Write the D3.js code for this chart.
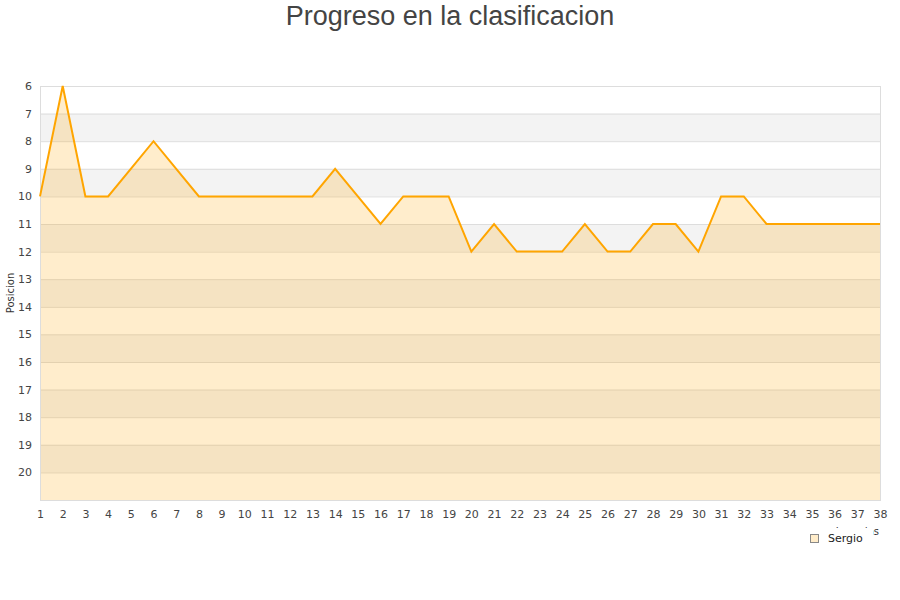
<!DOCTYPE html>
<html><head><meta charset="utf-8">
<script src="https://cdn.jsdelivr.net/npm/d3@7"></script>
<style>body{margin:0;background:#fff}svg{display:block}</style>
</head><body>
<svg id="c" width="900" height="600"></svg>
<script>
const jornadas = d3.range(1, 39);
const posiciones = [10,6,10,10,9,8,9,10,10,10,10,10,10,9,10,11,10,10,10,12,11,12,12,12,11,12,12,11,11,12,10,10,11,11,11,11,11,11];
const yTicks = d3.range(6, 21);
const serieNombre = "Sergio";
const titulo = "Progreso en la clasificacion";

const svg = d3.select("#c");
const m = {l:40, r:880, t:86, b:500};
const x = d3.scaleLinear().domain([1, 38]).range([m.l, m.r]);
const y = d3.scaleLinear().domain([6, 21]).range([m.t, m.b]);

// bands
const bands = d3.range(6, 21);
svg.append("g").selectAll("rect").data(bands).join("rect")
  .attr("x", m.l).attr("width", m.r - m.l)
  .attr("y", d => y(d)).attr("height", d => y(d+1) - y(d))
  .attr("fill", d => (d % 2 === 1) ? "#f3f3f3" : "#ffffff");
// grid lines
svg.append("g").selectAll("line").data(d3.range(6, 21)).join("line")
  .attr("x1", m.l).attr("x2", m.r)
  .attr("y1", d => y(d)+0.5).attr("y2", d => y(d)+0.5)
  .attr("stroke", "#dddddd").attr("stroke-width", 1);

// area
const area = d3.area().x((d,i) => x(jornadas[i])).y0(m.b).y1(d => y(d));
svg.append("path").datum(posiciones).attr("d", area)
  .attr("fill", "rgba(255,165,0,0.2)");

// border
svg.append("rect").attr("x", m.l+0.5).attr("y", m.t+0.5)
  .attr("width", m.r - m.l).attr("height", m.b - m.t)
  .attr("fill", "none").attr("stroke", "#dddddd");

// line
const line = d3.line().x((d,i) => x(jornadas[i])).y(d => y(d));
svg.append("path").datum(posiciones).attr("d", line)
  .attr("fill", "none").attr("stroke", "#ffa500").attr("stroke-width", 2)
  .attr("stroke-linejoin", "miter");

// y axis
const yAxis = d3.axisLeft(y).tickValues(yTicks).tickSize(0).tickPadding(8);
const gy = svg.append("g").attr("transform", `translate(${m.l},0)`).call(yAxis);
gy.select(".domain").remove();
gy.selectAll("text").attr("font-family", "DejaVu Sans").attr("font-size", 11).attr("fill", "#444");

// x axis
const xAxis = d3.axisBottom(x).tickValues(jornadas).tickSize(0).tickPadding(10).tickFormat(d3.format("d"));
const gx = svg.append("g").attr("transform", `translate(0,${m.b})`).call(xAxis);
gx.select(".domain").remove();
gx.selectAll("text").attr("font-family", "DejaVu Sans").attr("font-size", 11).attr("fill", "#444");

// axis titles
svg.append("text").attr("transform", "translate(14,293) rotate(-90)")
  .attr("text-anchor", "middle").attr("font-family", "DejaVu Sans").attr("font-size", 10)
  .attr("fill", "#333").text("Posicion");
svg.append("text").attr("x", 879).attr("y", 535).attr("text-anchor", "end")
  .attr("font-family", "DejaVu Sans").attr("font-size", 10).attr("fill", "#333").text("Jornadas");

// legend (white box partly covering the x-axis title, as in the reference)
const lg = svg.append("g");
lg.append("rect").attr("x", 800).attr("y", 528).attr("width", 73).attr("height", 22).attr("fill", "#fff");
lg.append("rect").attr("x", 810.5).attr("y", 534.5).attr("width", 8).attr("height", 8)
  .attr("fill", "#ffecc9").attr("stroke", "#888").attr("stroke-width", 1);
lg.append("text").attr("x", 828).attr("y", 542).attr("font-family", "DejaVu Sans").attr("font-size", 11)
  .attr("fill", "#222").text(serieNombre);

// title
svg.append("text").attr("x", 450).attr("y", 25).attr("text-anchor", "middle")
  .attr("font-family", "Liberation Sans, Arial, sans-serif").attr("font-size", 27)
  .attr("fill", "#444").text(titulo);
</script>
</body></html>
